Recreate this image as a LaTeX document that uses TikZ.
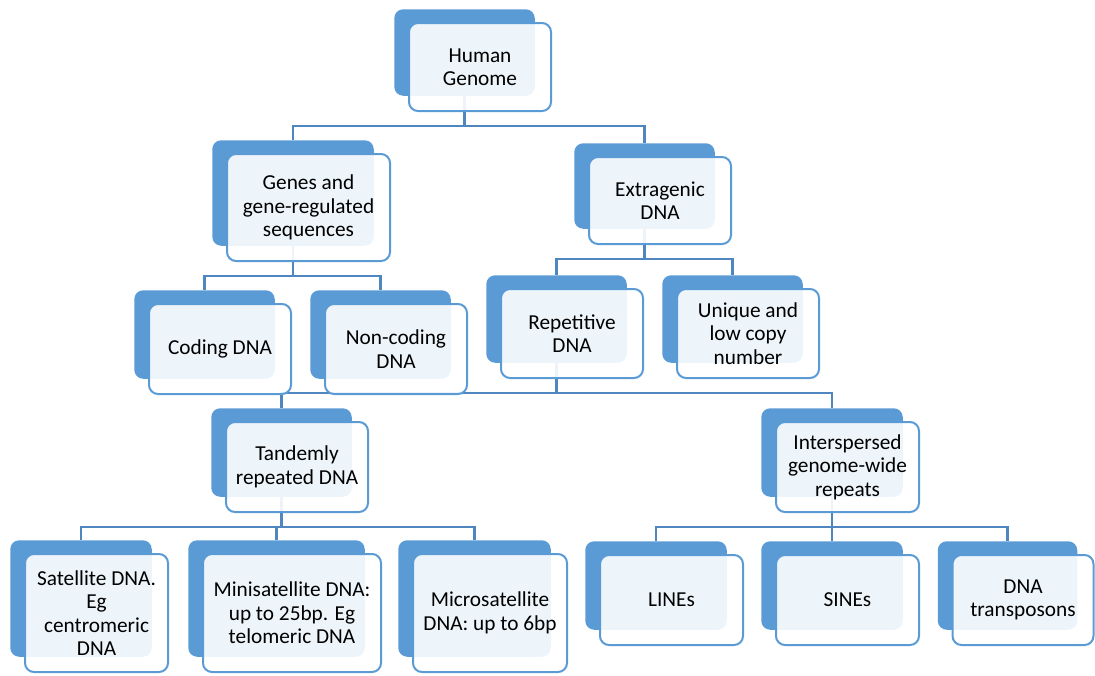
\documentclass[tikz,border=0pt]{standalone}
\usepackage{fontspec}
\setmainfont{Carlito}
\usetikzlibrary{fit,backgrounds}
\definecolor{accent}{HTML}{5B9BD5}
\definecolor{linkblue}{HTML}{4F86C0}
\begin{document}
\begin{tikzpicture}[x=1pt, y=-1pt]
	\tikzstyle{front}=[rectangle, rounded corners=9pt, draw=accent, line width=2pt, fill=white, fill opacity=0.9, text opacity=1, align=center, font=\fontsize{21.3}{23.4}\selectfont, minimum width=142pt, minimum height=90pt]
	\tikzstyle{back}=[rectangle, rounded corners=9pt, fill=accent, inner sep=-1.75pt, xshift=-15.5pt, yshift=14.5pt]
	\tikzstyle{connect}=[draw=linkblue, line width=2.6pt, to path={(\tikztostart.south) -- ++(0,30) -| (\tikztotarget.north)}]
	\useasboundingbox (0,0) rectangle (1095,675);
	\node[front, minimum height=88pt] (genome) at (480,67) {Human\\Genome};
	\node[front, minimum width=163pt, minimum height=107pt] (genes) at (308.5,207.5) {Genes and\\gene-regulated\\sequences};
	\node[front, minimum height=87pt] (extra) at (660,200.5) {Extragenic\\DNA};
	\node[front] (coding) at (220,349) {Coding DNA};
	\node[front] (noncoding) at (396,349) {Non-coding\\DNA};
	\node[front, minimum height=89pt] (repeat) at (572,333.5) {Repetitive\\DNA};
	\node[front, minimum height=89pt] (unique) at (748,333.5) {Unique and\\low copy\\number};
	\node[front] (tandem) at (297,467) {Tandemly\\repeated DNA};
	\node[front, minimum width=143pt] (inter) at (847.5,467) {Interspersed\\genome-wide\\repeats};
	\node[front, minimum width=143pt, minimum height=118pt] (sat) at (96.5,613) {Satellite DNA.\\Eg\\centromeric\\DNA};
	\node[front, minimum width=178pt, minimum height=118pt] (minisat) at (292,613) {Minisatellite DNA:\\up to 25bp. Eg\\telomeric DNA};
	\node[front, minimum width=154pt, minimum height=118pt] (microsat) at (490,613) {Microsatellite\\DNA: up to 6bp};
	\node[front, minimum width=143pt] (lines) at (671.5,600) {LINEs};
	\node[front, minimum width=143pt] (sines) at (847.5,600) {SINEs};
	\node[front, minimum width=141pt] (transp) at (1023,600) {DNA\\transposons};
	\begin{scope}[on background layer]
	\node[back, fit=(genome)] (genomeB) {};
	\node[back, fit=(genes)] (genesB) {};
	\node[back, fit=(extra)] (extraB) {};
	\node[back, fit=(coding)] (codingB) {};
	\node[back, fit=(noncoding)] (noncodingB) {};
	\node[back, fit=(repeat)] (repeatB) {};
	\node[back, fit=(unique)] (uniqueB) {};
	\node[back, fit=(tandem)] (tandemB) {};
	\node[back, fit=(inter)] (interB) {};
	\node[back, fit=(sat)] (satB) {};
	\node[back, fit=(minisat)] (minisatB) {};
	\node[back, fit=(microsat)] (microsatB) {};
	\node[back, fit=(lines)] (linesB) {};
	\node[back, fit=(sines)] (sinesB) {};
	\node[back, fit=(transp)] (transpB) {};
	\path (genomeB) edge [connect] (genesB)
	(genomeB) edge [connect] (extraB)
	(genesB) edge [connect] (codingB)
	(genesB) edge [connect] (noncodingB)
	(extraB) edge [connect] (repeatB)
	(extraB) edge [connect] (uniqueB)
	(repeatB) edge [connect] (tandemB)
	(repeatB) edge [connect] (interB)
	(tandemB) edge [connect] (satB)
	(tandemB) edge [connect] (minisatB)
	(tandemB) edge [connect] (microsatB)
	(interB) edge [connect] (linesB)
	(interB) edge [connect] (sinesB)
	(interB) edge [connect] (transpB);
	\end{scope}
\end{tikzpicture}
\end{document}
